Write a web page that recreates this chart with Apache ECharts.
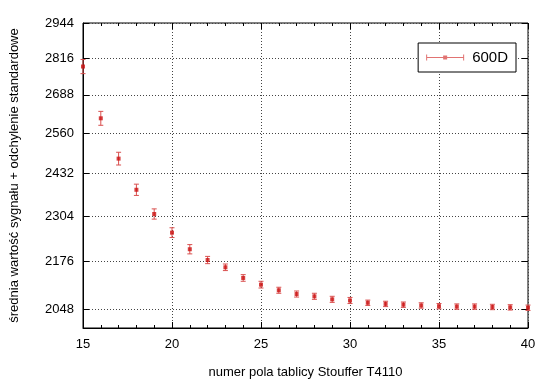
<!DOCTYPE html>
<html>
<head>
<meta charset="utf-8">
<script src="https://cdn.jsdelivr.net/npm/echarts@6/dist/echarts.min.js"></script>
<style>html,body{margin:0;padding:0;background:#fff}#c{width:550px;height:389px}</style>
</head>
<body>
<div id="c"></div>
<script>
const fieldNumbers = [15,16,17,18,19,20,21,22,23,24,25,26,27,28,29,30,31,32,33,34,35,36,37,38,39,40];
const meanValues   = [2786,2609,2479,2383,2311,2257,2210,2180,2160,2131,2113,2098,2088,2082,2074,2071,2065,2062,2060,2058,2056,2055,2055,2054,2053,2052];
const stdDevs      = [25,23,20,17,15,14,13,10,9,9,9,8,8,8,8,8,7,7,7,7,7,7,7,7,7,7];
const yTickValues  = [2048,2176,2304,2432,2560,2688,2816,2944];
const seriesName = '600D';

const FONT = 'Liberation Sans, Arial, sans-serif';
const barColor = '#d9504f';
const pointColor = '#cc1111';

const points = fieldNumbers.map((x, i) => [x, meanValues[i]]);
const bars = fieldNumbers.map((x, i) => [x, meanValues[i] - stdDevs[i], meanValues[i] + stdDevs[i]]);

const dotted = {show: true, lineStyle: {color: '#444', width: 1, type: [1, 2]}};

const chart = echarts.init(document.getElementById('c'), null, {renderer: 'canvas'});
chart.setOption({
  animation: false,
  textStyle: {fontFamily: FONT},
  grid: {left: 83, right: 22, top: 23, bottom: 61, show: true, borderColor: '#000', borderWidth: 1, containLabel: false},
  legend: {
    data: [{name: seriesName, icon: 'path://M0,4.5H38V5.5H0Z M0,2H1V8H0Z M37,2H38V8H37Z M17,3H21V7H17Z'}],
    right: 34, top: 43,
    itemWidth: 38, itemHeight: 8,
    padding: [7, 8, 7, 8],
    borderColor: '#000', borderWidth: 1,
    backgroundColor: '#fff',
    textStyle: {fontFamily: FONT, fontSize: 15, color: '#000', padding: [0, 0, 0, 3]},
    itemStyle: {color: barColor}
  },
  xAxis: [{
    type: 'value', min: 15, max: 40, interval: 5,
    name: 'numer pola tablicy Stouffer T4110', nameLocation: 'middle', nameGap: 38,
    nameTextStyle: {fontFamily: FONT, fontSize: 13, color: '#000'},
    axisLine: {show: true, onZero: false, lineStyle: {color: '#000'}},
    axisTick: {show: true, inside: true, length: 6, lineStyle: {color: '#000'}},
    minorTick: {show: true, splitNumber: 5, length: 3, lineStyle: {color: '#000'}},
    axisLabel: {fontFamily: FONT, fontSize: 13, color: '#000', margin: 10},
    splitLine: dotted
  }, {
    type: 'value', min: 15, max: 40, interval: 5, position: 'top',
    axisLine: {show: false},
    axisTick: {show: true, inside: true, length: 6, lineStyle: {color: '#000'}},
    minorTick: {show: true, splitNumber: 5, length: 3, lineStyle: {color: '#000'}},
    axisLabel: {show: false}, splitLine: {show: false}
  }],
  yAxis: [{
    type: 'log', min: 2000, max: 2944,
    name: 'średnia wartość sygnału + odchylenie standardowe', nameLocation: 'middle', nameGap: 62, nameRotate: 90,
    nameTextStyle: {fontFamily: FONT, fontSize: 13, color: '#000'},
    axisLine: {show: true, onZero: false, lineStyle: {color: '#000'}},
    axisTick: {show: true, inside: true, length: 6, customValues: yTickValues, lineStyle: {color: '#000'}},
    axisLabel: {fontFamily: FONT, fontSize: 13, color: '#000', margin: 9, customValues: yTickValues, formatter: v => String(Math.round(v))},
    splitLine: dotted
  }, {
    type: 'log', min: 2000, max: 2944, position: 'right',
    axisLine: {show: false},
    axisTick: {show: true, inside: true, length: 6, customValues: yTickValues, lineStyle: {color: '#000'}},
    axisLabel: {show: false, customValues: yTickValues}, splitLine: {show: false}
  }],
  series: [{
    type: 'custom', name: 'errors', xAxisIndex: 0, yAxisIndex: 0,
    data: bars, z: 3, silent: true,
    renderItem: function (params, api) {
      const x = api.value(0);
      const lo = api.coord([x, api.value(1)]);
      const hi = api.coord([x, api.value(2)]);
      const cw = 2.5;
      const st = {stroke: barColor, lineWidth: 1};
      return {type: 'group', children: [
        {type: 'line', shape: {x1: lo[0], y1: lo[1], x2: hi[0], y2: hi[1]}, style: st},
        {type: 'line', shape: {x1: lo[0] - cw, y1: lo[1], x2: lo[0] + cw, y2: lo[1]}, style: st},
        {type: 'line', shape: {x1: hi[0] - cw, y1: hi[1], x2: hi[0] + cw, y2: hi[1]}, style: st}
      ]};
    }
  }, {
    type: 'scatter', name: seriesName, xAxisIndex: 0, yAxisIndex: 0,
    data: points, symbol: 'rect', symbolSize: 4, z: 4,
    itemStyle: {color: pointColor}
  }]
});
</script>
</body>
</html>
